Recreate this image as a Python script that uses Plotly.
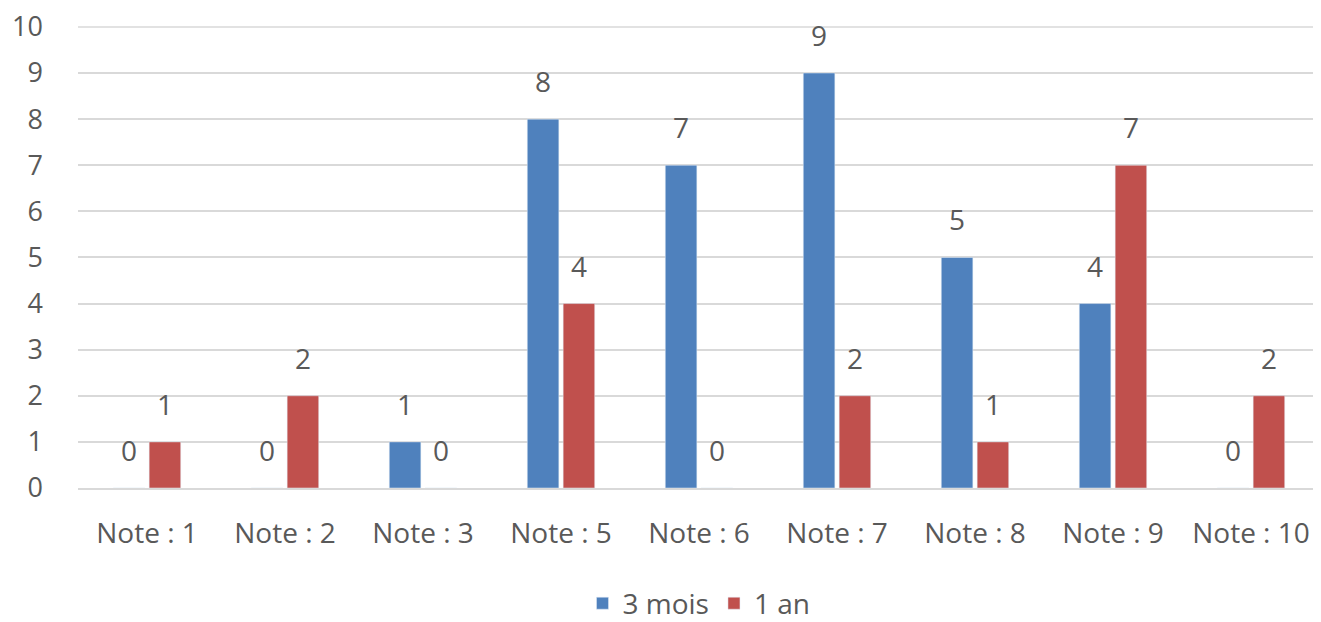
import plotly.graph_objects as go

categories = ["Note : 1", "Note : 2", "Note : 3", "Note : 5", "Note : 6",
              "Note : 7", "Note : 8", "Note : 9", "Note : 10"]
trois_mois = [0, 0, 1, 8, 7, 9, 5, 4, 0]
un_an = [1, 2, 0, 4, 0, 2, 1, 7, 2]
tick_vals = list(range(0, 11))

font_family = "Open Sans, Liberation Sans, sans-serif"
text_color = "#595959"
grid_color = "#D9D9D9"
fsize = 28
bargap = 0.48
W, H = 1313, 614
L, R, T, B = 70, 1, 18, 134
plot_w = W - L - R
slot_px = plot_w / len(categories) * (1 - bargap) / 2

fig = go.Figure()
fig.add_trace(go.Bar(name="3 mois", x=categories, y=trois_mois,
                     marker=dict(color="#4F81BD")))
fig.add_trace(go.Bar(name="1 an", x=categories, y=un_an,
                     marker=dict(color="#C0504D")))

annotations = []
for series, shift in ((trois_mois, -slot_px / 2), (un_an, slot_px / 2)):
    for cat, val in zip(categories, series):
        annotations.append(dict(
            x=cat, y=val, xref="x", yref="y", text=str(val), showarrow=False,
            xshift=shift, yshift=38, yanchor="middle",
            font=dict(size=fsize, color=text_color, family=font_family)))

fig.update_layout(
    width=W, height=H,
    margin=dict(l=L, r=R, t=T, b=B, autoexpand=False),
    paper_bgcolor="white", plot_bgcolor="white",
    barmode="group", bargap=bargap, bargroupgap=0.12,
    font=dict(family=font_family, size=fsize, color=text_color),
    showlegend=True,
    legend=dict(orientation="h", x=0.5, xanchor="center", y=-0.25, yanchor="middle",
                font=dict(size=28, color=text_color)),
    annotations=annotations,
    shapes=[dict(type="line", xref="paper", yref="y", x0=0, x1=1,
                 y0=max(tick_vals), y1=max(tick_vals), layer="below",
                 line=dict(color=grid_color, width=1.5))],
)
fig.update_yaxes(range=[0, 10.02], tickvals=tick_vals, showgrid=True,
                 gridcolor=grid_color, gridwidth=1.5, zeroline=False,
                 showline=False, ticks="", ticklabelstandoff=34,
                 ticklabeloverflow="allow",
                 tickfont=dict(size=27, color=text_color))
fig.update_xaxes(showline=True, linecolor=grid_color, linewidth=1.5,
                 ticks="", tickfont=dict(size=fsize, color=text_color),
                 ticklabelstandoff=20)

fig.write_html("out.html")
